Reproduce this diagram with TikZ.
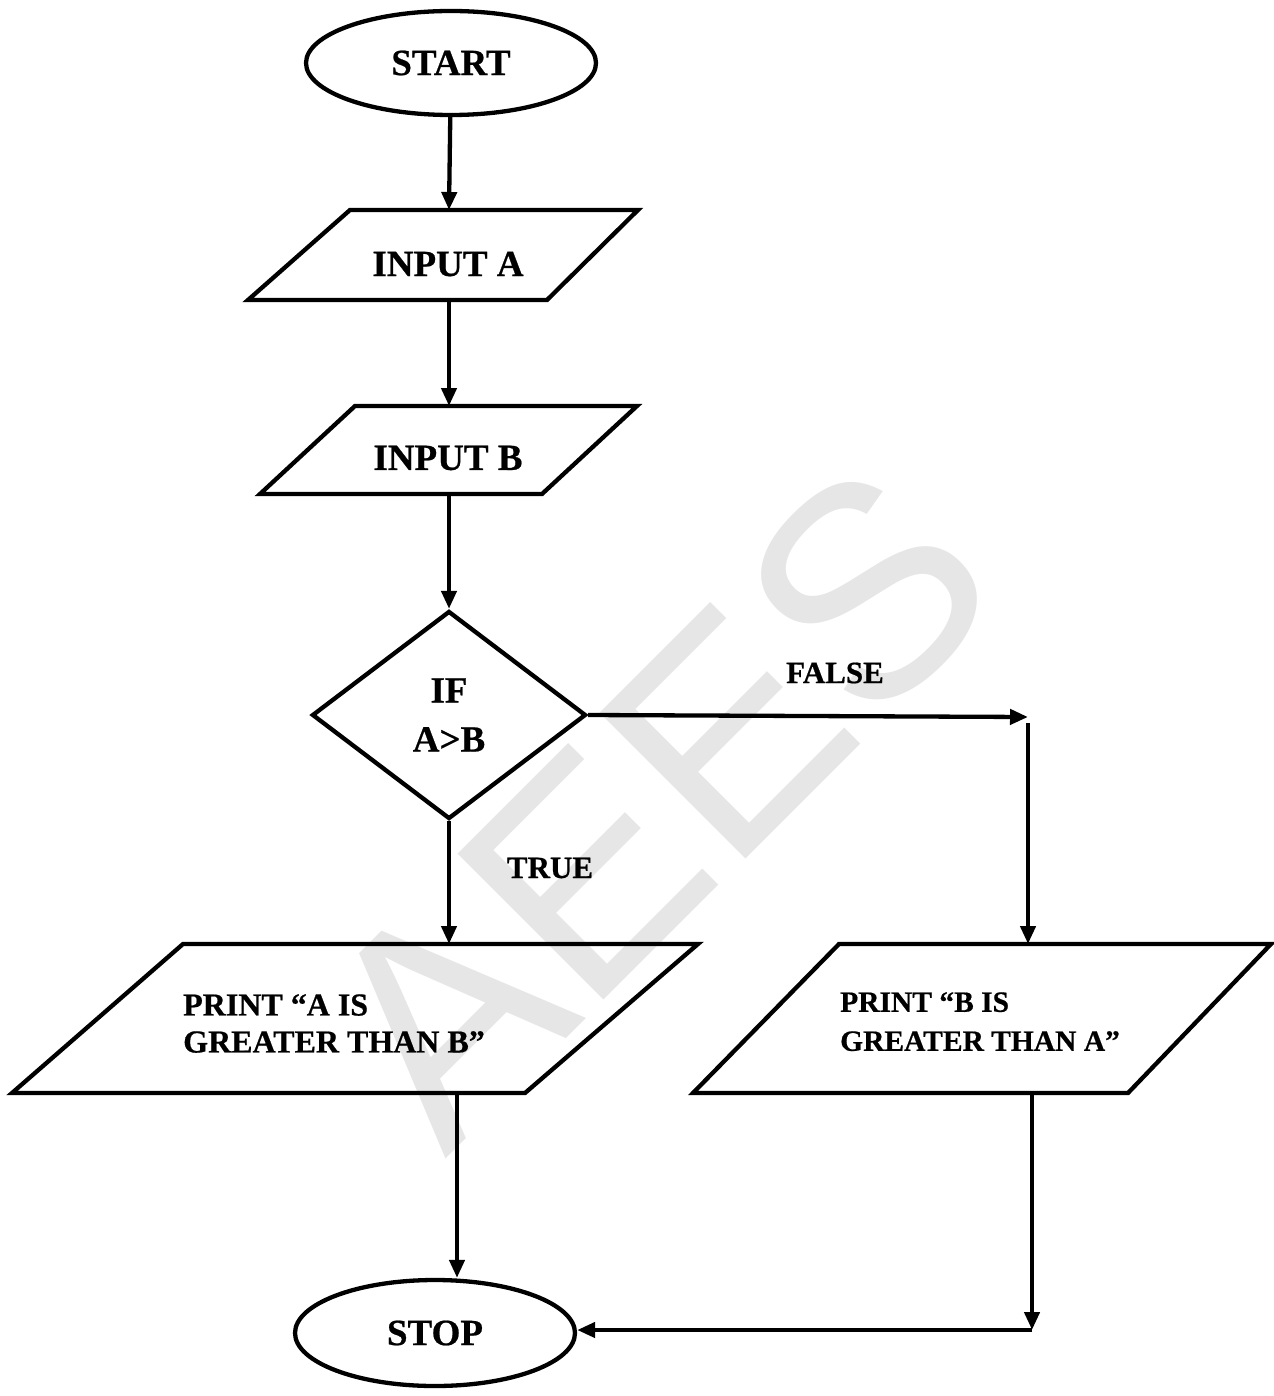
\documentclass[tikz,border=0pt]{standalone}
\usepackage{fontspec}
\setmainfont{Liberation Serif}[BoldFeatures={FakeBold=0.6}]
\newfontfamily\wmfont{Liberation Sans}
\usetikzlibrary{shapes.geometric,arrows.meta}
\definecolor{wmgray}{HTML}{E6E6E6}
\begin{document}
\begin{tikzpicture}[x=1pt,y=-1pt,
  edge/.style={line width=4.3pt},
  arr/.style={line width=4.3pt,-{Triangle[length=18pt,width=15pt]}},
  big/.style={font=\fontsize{37}{49}\selectfont\bfseries},
  lbl/.style={font=\fontsize{31}{34}\selectfont\bfseries,inner sep=0pt},
  term/.style={draw,ellipse,line width=4.3pt,inner sep=0pt,big},
  iobox/.style={draw,line width=4.3pt,line join=miter},
  decide/.style={draw,diamond,line width=4.3pt,inner sep=0pt,align=center,big},
  ptxtA/.style={font=\fontsize{32}{37}\selectfont\bfseries,align=left,inner sep=0pt,anchor=north west},
  ptxtB/.style={font=\fontsize{29.5}{39}\selectfont\bfseries,align=left,inner sep=0pt,anchor=north west},
  wm/.style={font=\wmfont\fontsize{300}{300}\selectfont,text=wmgray,inner sep=0pt}
]
\useasboundingbox (0,0) rectangle (1273,1396);

% background watermark
\node[wm,rotate=45] (wmark) at (655,803) {AEES};

% terminals
\node[term,minimum width=290pt,minimum height=104pt] (start) at (451,63) {START};
\node[term,minimum width=280pt,minimum height=106pt] (stop) at (435,1333) {STOP};

% input A
\draw[iobox] (350,210) -- (638,210) -- (547,300) -- (248,300) -- cycle;
\coordinate (inA-n) at (449,210);
\coordinate (inA-s) at (449,300);
\node[big] (inA) at (448,264) {INPUT A};

% input B
\draw[iobox] (355,406) -- (637,406) -- (542,494) -- (260,494) -- cycle;
\coordinate (inB-n) at (449,406);
\coordinate (inB-s) at (449,494);
\node[big] (inB) at (448,458) {INPUT B};

% decision
\node[decide,minimum width=274pt,minimum height=208pt] (dec) at (449,715) {IF\\A>B};

% output A
\draw[iobox] (183,944) -- (698,944) -- (525,1093) -- (12,1093) -- cycle;
\coordinate (pA-n) at (449,944);
\coordinate (pA-s) at (457,1093);
\node[ptxtA] (pA) at (183,994) {PRINT “A IS\\GREATER THAN B”};

% output B
\draw[iobox] (839,944) -- (1271,944) -- (1128,1093) -- (693,1093) -- cycle;
\coordinate (pB-n) at (1028,944);
\coordinate (pB-s) at (1032,1093);
\node[ptxtB] (pB) at (840,992) {PRINT “B IS\\GREATER THAN A”};

% branch labels
\node[lbl] (lfalse) at (835,673) {FALSE};
\node[lbl] (ltrue) at (550,868) {TRUE};

% connectors
\coordinate (fT) at (1028,717);
\coordinate (cR) at (1032,1330);
\draw[arr] (start) -- (inA-n);
\draw[arr] (inA-s) -- (inB-n);
\draw[arr] (inB-s) -- (dec.north);
\draw[arr] (dec.east) -- (fT);
\draw[arr] ([yshift=-6pt]fT) -- (pB-n);
\draw[arr] (dec.south) -- (pA-n);
\draw[arr] (pA-s) -- (pA-s |- stop.north);
\draw[arr] (pB-s) -- (cR);
\draw[arr] (cR) -- (cR -| stop.east);
\end{tikzpicture}
\end{document}
